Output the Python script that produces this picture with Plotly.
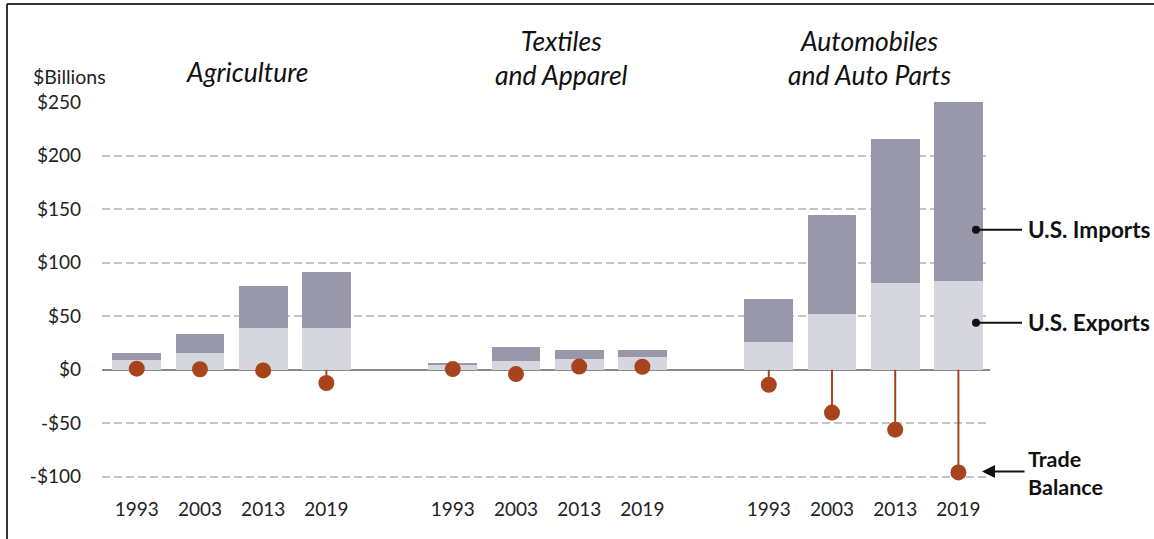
import plotly.graph_objects as go

# ---- data ----
groups = ["Agriculture", "Textiles<br>and Apparel", "Automobiles<br>and Auto Parts"]
years = ["1993", "2003", "2013", "2019"]
exports_agri = [9, 16, 39, 39]
imports_agri = [7, 17, 39.5, 52]
balance_agri = [1, 0.5, -0.6, -12.4]
exports_text = [4, 8, 10, 11.5]
imports_text = [2.5, 13, 8.4, 7]
balance_text = [0.6, -4, 3, 2.8]
exports_auto = [25.5, 52, 81, 83]
imports_auto = [41, 93, 135, 179]
balance_auto = [-14, -40, -56, -96]
ytick_vals = [250, 200, 150, 100, 50, 0, -50, -100]
ytick_text = ["$250", "$200", "$150", "$100", "$50", "$0", "-$50", "-$100"]

IMP_C = "#9898AA"
EXP_C = "#D6D6DF"
BAL_C = "#A8441C"

# slot positions: groups separated by one empty slot
x_pos = []
for g in range(3):
    for i in range(4):
        x_pos.append(g * 5 + i)
exports = exports_agri + exports_text + exports_auto
imports = imports_agri + imports_text + imports_auto
balance = balance_agri + balance_text + balance_auto

fig = go.Figure()
fig.add_trace(go.Bar(x=x_pos, y=exports, marker=dict(color=EXP_C, line=dict(width=0)),
                     width=0.77, showlegend=False))
fig.add_trace(go.Bar(x=x_pos, y=imports, marker=dict(color=IMP_C, line=dict(width=0)),
                     width=0.77, showlegend=False))

# lollipop stems
lx, ly = [], []
for xp, b in zip(x_pos, balance):
    lx += [xp, xp, None]
    ly += [0, b, None]
fig.add_trace(go.Scatter(x=lx, y=ly, mode="lines", line=dict(color=BAL_C, width=2),
                         showlegend=False, hoverinfo="skip"))
fig.add_trace(go.Scatter(x=x_pos, y=balance, mode="markers",
                         marker=dict(color=BAL_C, size=16, line=dict(width=0)),
                         showlegend=False, cliponaxis=False))

# pixel geometry helpers
L, R, T, B = 102, 990, 102, 496.5
def px(xp):
    return (xp - L) / (R - L)
def py(yp):
    return (B - yp) / (B - T)

FONT = "Lato, 'Open Sans', sans-serif"
annotations = []
title_x = [247, 561, 869]
title_y = [72, 58, 58]
for g, tx, ty in zip(groups, title_x, title_y):
    annotations.append(dict(xref="paper", yref="paper", x=px(tx), y=py(ty), text="<i>" + g + "</i>",
                            showarrow=False, xanchor="center", yanchor="middle",
                            font=dict(family=FONT, size=26.5, color="#111")))
annotations.append(dict(xref="paper", yref="paper", x=px(31), y=py(76), text="$Billions",
                        showarrow=False, xanchor="left", yanchor="middle",
                        font=dict(family=FONT, size=19.5, color="#222")))
# legend-like labels
annotations.append(dict(xref="paper", yref="paper", x=px(1026), y=py(230), text="<b>U.S. Imports</b>",
                        showarrow=False, xanchor="left", yanchor="middle",
                        font=dict(family=FONT, size=22.5, color="#111")))
annotations.append(dict(xref="paper", yref="paper", x=px(1026), y=py(323), text="<b>U.S. Exports</b>",
                        showarrow=False, xanchor="left", yanchor="middle",
                        font=dict(family=FONT, size=22.5, color="#111")))
annotations.append(dict(xref="paper", yref="paper", x=px(1026), y=py(473), text="<b>Trade<br>Balance</b>",
                        showarrow=False, xanchor="left", yanchor="middle", align="left",
                        font=dict(family=FONT, size=21.5, color="#111")))
annotations.append(dict(xref="paper", yref="paper", x=px(982), y=py(472), text="",
                        showarrow=True, ax=44, ay=0, arrowhead=2, arrowsize=1.3,
                        arrowwidth=2, arrowcolor="#111"))

shapes = []
for yy in (230, 323):
    shapes.append(dict(type="line", xref="paper", yref="paper", x0=px(976), x1=px(1022),
                       y0=py(yy), y1=py(yy), line=dict(color="#111", width=2)))
    shapes.append(dict(type="circle", xref="paper", yref="paper",
                       x0=px(972), x1=px(980), y0=py(yy + 4), y1=py(yy - 4),
                       fillcolor="#111", line=dict(color="#111", width=0)))
# outer frame (top and left edges visible)
shapes.append(dict(type="line", xref="paper", yref="paper", x0=px(7), x1=px(1170),
                   y0=py(4), y1=py(4), line=dict(color="#333", width=2)))
shapes.append(dict(type="line", xref="paper", yref="paper", x0=px(7), x1=px(7),
                   y0=py(4), y1=py(560), line=dict(color="#333", width=2)))

fig.update_layout(
    width=1154, height=539,
    margin=dict(l=L, r=1154 - R, t=T, b=539 - B),
    barmode="stack",
    plot_bgcolor="white", paper_bgcolor="white",
    annotations=annotations, shapes=shapes,
    font=dict(family=FONT, color="#222"),
)
fig.update_xaxes(range=[-0.55, 13.5], tickvals=x_pos, ticktext=years * 3,
                 showgrid=False, zeroline=False, showline=False, ticks="",
                 tickfont=dict(family=FONT, size=19, color="#222"), ticklabelstandoff=0)
fig.update_yaxes(range=[-118, 250.3], tickvals=ytick_vals, ticktext=ytick_text,
                 showgrid=True, gridcolor="#C4C4C4", griddash="8px,4px", gridwidth=1.5,
                 zeroline=True, zerolinecolor="#8A8A8A", zerolinewidth=2,
                 showline=False, ticks="", ticklabelstandoff=20,
                 tickfont=dict(family=FONT, size=19, color="#222"))

fig.write_html("out.html", config={"displayModeBar": False},
               post_script="document.body.style.margin='0px';document.body.style.overflow='hidden';")
